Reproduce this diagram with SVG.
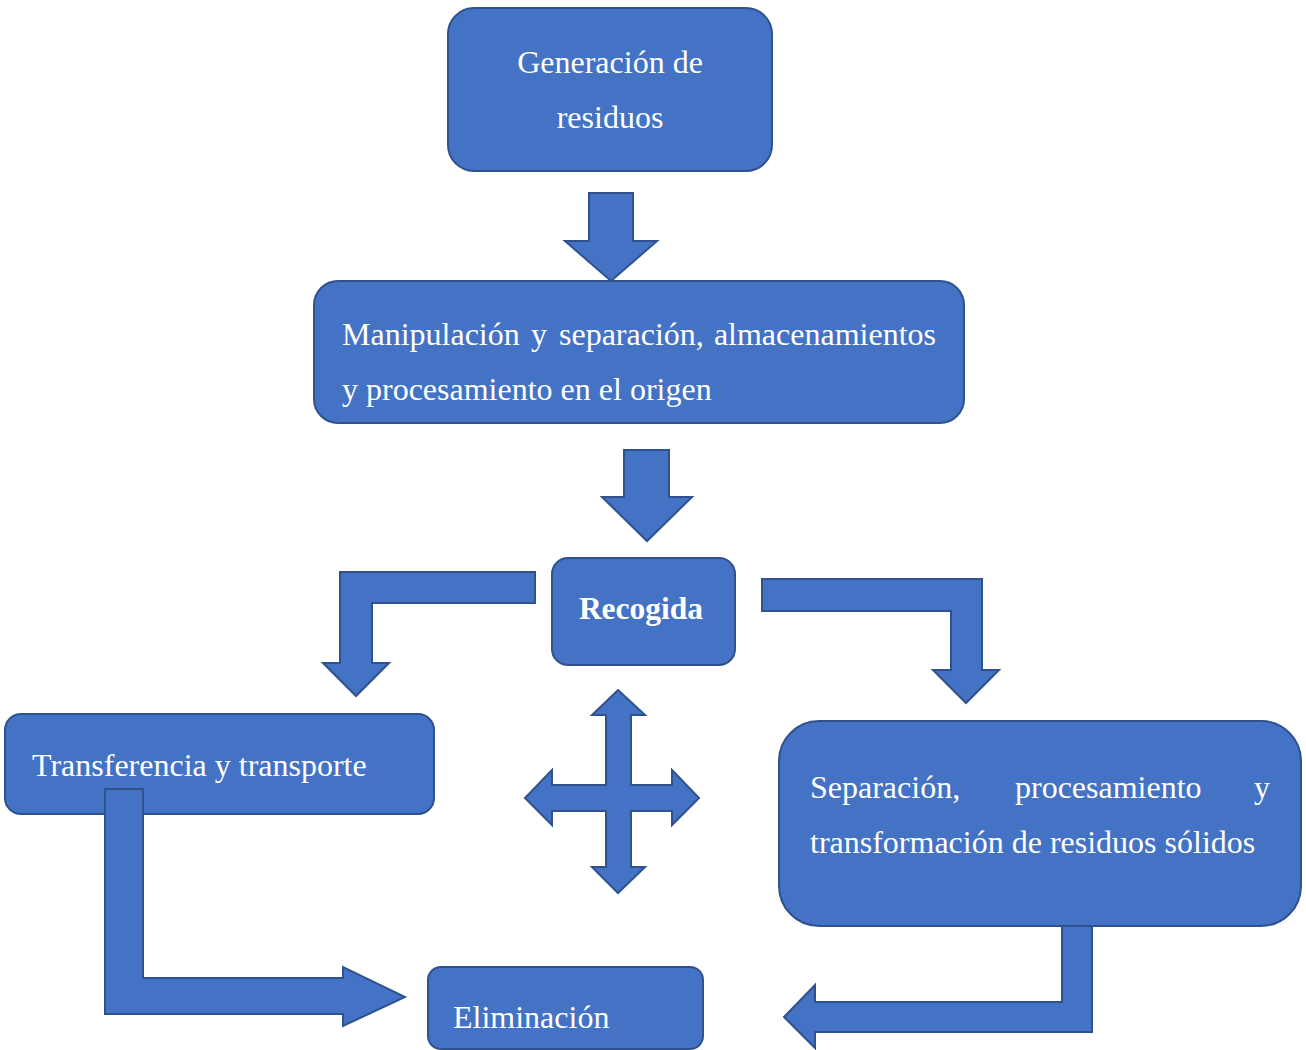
<svg xmlns="http://www.w3.org/2000/svg" width="1306" height="1050" viewBox="0 0 1306 1050">
<style>
.box{fill:#4472C4;stroke:#2F528F;stroke-width:2}
.arr{fill:#4472C4;stroke:#2F528F;stroke-width:2;stroke-linejoin:miter}
.t{font-family:"Liberation Serif","Times New Roman",serif;font-size:32px;fill:#ffffff}
.b{font-weight:bold;font-size:31.5px}
</style>
<rect width="1306" height="1050" fill="#ffffff"/>
<g id="n-generacion">
<rect class="box" x="448" y="8" width="324" height="163" rx="26"/>
<text class="t" x="610" y="73" text-anchor="middle">Generación de</text>
<text class="t" x="610" y="128" text-anchor="middle">residuos</text>
</g>
<g id="n-manipulacion">
<rect class="box" x="314" y="281" width="650" height="142" rx="24"/>
<text class="t" x="342" y="345">Manipulación</text>
<text class="t" x="531" y="345">y</text>
<text class="t" x="559" y="345">separación,</text>
<text class="t" x="936" y="345" text-anchor="end">almacenamientos</text>
<text class="t" x="342" y="400">y procesamiento en el origen</text>
</g>
<g id="n-recogida">
<rect class="box" x="552" y="558" width="183" height="107" rx="16"/>
<text class="t b" x="641" y="619" text-anchor="middle">Recogida</text>
</g>
<g id="n-transferencia">
<rect class="box" x="5" y="714" width="429" height="100" rx="16"/>
<text class="t" x="32" y="776">Transferencia y transporte</text>
</g>
<g id="n-separacion">
<rect class="box" x="779" y="721" width="522" height="205" rx="40"/>
<text class="t" x="810" y="798">Separación,</text>
<text class="t" x="1015" y="798">procesamiento</text>
<text class="t" x="1270" y="798" text-anchor="end">y</text>
<text class="t" x="810" y="853">transformación de residuos sólidos</text>
</g>
<g id="n-eliminacion">
<rect class="box" x="428" y="967" width="275" height="82" rx="13"/>
<text class="t" x="453" y="1028">Eliminación</text>
</g>
<g id="connectors">
<path class="arr" d="M589,193 L633,193 L633,241 L657,241 L611,281 L565,241 L589,241 Z"/>
<path class="arr" d="M624,450 L669,450 L669,497 L692,497 L647,541 L602,497 L624,497 Z"/>
<path class="arr" d="M535,572 L340,572 L340,663 L323,663 L356,696 L389,663 L372,663 L372,603 L535,603 Z"/>
<path class="arr" d="M762,579 L982,579 L982,670 L999,670 L966,703 L933,670 L951,670 L951,611 L762,611 Z"/>
<path class="arr" d="M618,690 L645,715 L631,715 L631,785 L672,785 L672,770 L699,798 L672,825 L672,811 L631,811 L631,867 L645,867 L618,893 L592,867 L606,867 L606,811 L552,811 L552,825 L525,798 L552,770 L552,785 L606,785 L606,715 L592,715 Z"/>
<path class="arr" d="M105,789 L143,789 L143,978 L343,978 L343,967 L405,997 L343,1026 L343,1014 L105,1014 Z"/>
<path class="arr" d="M1092,926 L1092,1032 L815,1032 L815,1048 L784,1017 L815,985 L815,1002 L1062,1002 L1062,926 Z"/>
</g>
</svg>
